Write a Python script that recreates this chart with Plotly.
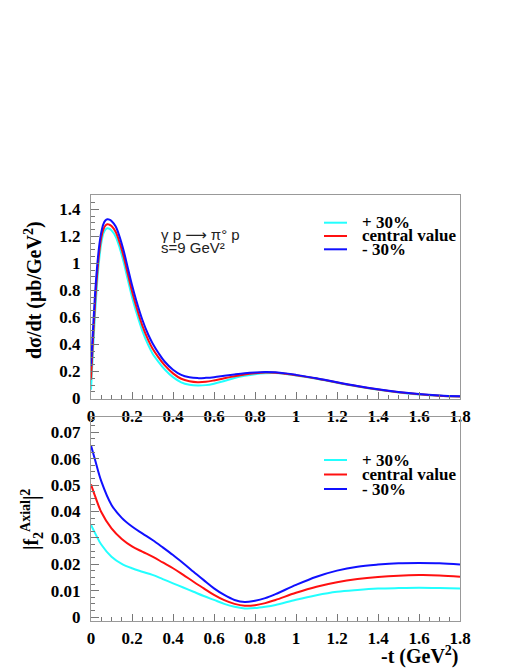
import plotly.graph_objects as go

# -t values (GeV^2) and d(sigma)/dt for the three curves (top panel)
t_top = [0, 0.01, 0.02, 0.03, 0.04, 0.05, 0.06, 0.07, 0.08, 0.09, 0.1, 0.12, 0.14,
         0.16, 0.18, 0.2, 0.22, 0.25, 0.28, 0.3, 0.33, 0.36, 0.4, 0.44, 0.48, 0.52,
         0.56, 0.6, 0.65, 0.7, 0.75, 0.8, 0.85, 0.9, 0.95, 1.0, 1.1, 1.2, 1.3, 1.4,
         1.5, 1.6, 1.7, 1.8]
dsdt_plus = [0.065, 0.36, 0.64, 0.86, 1.03, 1.15, 1.22, 1.25, 1.26, 1.257, 1.245, 1.2,
             1.115, 1.005, 0.877, 0.752, 0.645, 0.503, 0.393, 0.334, 0.27, 0.215, 0.158,
             0.12, 0.102, 0.096, 0.099, 0.11, 0.13, 0.152, 0.168, 0.18, 0.187, 0.188,
             0.181, 0.17, 0.146, 0.116, 0.088, 0.064, 0.045, 0.03, 0.02, 0.014]
dsdt_central = [0.14, 0.44, 0.71, 0.92, 1.08, 1.19, 1.25, 1.28, 1.29, 1.287, 1.278, 1.235,
                1.153, 1.046, 0.92, 0.795, 0.686, 0.542, 0.43, 0.37, 0.303, 0.245, 0.186,
                0.146, 0.128, 0.121, 0.124, 0.134, 0.15, 0.165, 0.178, 0.187, 0.192, 0.191,
                0.183, 0.173, 0.148, 0.118, 0.09, 0.066, 0.046, 0.031, 0.021, 0.015]
dsdt_minus = [0.24, 0.52, 0.78, 0.98, 1.13, 1.23, 1.29, 1.318, 1.327, 1.325, 1.315, 1.275,
              1.195, 1.09, 0.965, 0.84, 0.73, 0.585, 0.47, 0.41, 0.335, 0.272, 0.213, 0.175,
              0.157, 0.151, 0.153, 0.158, 0.168, 0.178, 0.187, 0.193, 0.196, 0.194, 0.186,
              0.175, 0.15, 0.12, 0.092, 0.068, 0.048, 0.033, 0.023, 0.017]

# |f2 Axial|^2 (bottom panel)
t_bot = [0, 0.02, 0.05, 0.1, 0.15, 0.2, 0.25, 0.3, 0.35, 0.4, 0.45, 0.5, 0.55, 0.6,
         0.65, 0.7, 0.75, 0.8, 0.85, 0.9, 1.0, 1.1, 1.2, 1.3, 1.4, 1.5, 1.6, 1.7, 1.8]
f2_plus = [0.0349, 0.0318, 0.0275, 0.0229, 0.0202, 0.0185, 0.0172, 0.016, 0.0144, 0.0128,
           0.0112, 0.0096, 0.008, 0.0065, 0.005, 0.0039, 0.0033, 0.0034, 0.0039, 0.0046,
           0.0066, 0.0083, 0.0096, 0.0103, 0.0108, 0.011, 0.0111, 0.011, 0.0108]
f2_central = [0.0503, 0.0458, 0.0398, 0.0336, 0.0296, 0.0268, 0.0248, 0.0229, 0.0207, 0.0185,
              0.016, 0.0134, 0.0109, 0.0084, 0.0064, 0.005, 0.0043, 0.0045, 0.0053, 0.0065,
              0.0092, 0.0115, 0.0132, 0.0144, 0.0152, 0.0157, 0.0159, 0.0158, 0.0153]
f2_minus = [0.065, 0.0595, 0.0515, 0.0425, 0.0376, 0.0343, 0.0317, 0.0292, 0.0264, 0.0235,
            0.0204, 0.0172, 0.014, 0.0109, 0.0084, 0.0065, 0.0057, 0.0062, 0.0072, 0.0087,
            0.0122, 0.0153, 0.0176, 0.0191, 0.0199, 0.0204, 0.0205, 0.0204, 0.0199]

labels = ["+ 30%", "central value", "- 30%"]
colors = ["#22ffff", "#ff1010", "#1010ff"]

W, H = 518, 670
PAD = 8  # page body margin shifts the figure by this much


def fx(px):
    return (px - PAD) / W


def fy(py):
    return 1 - (py - PAD) / H


fig = go.Figure()
for ys, col in zip([dsdt_plus, dsdt_central, dsdt_minus], colors):
    fig.add_trace(go.Scatter(x=t_top, y=ys, mode="lines", line=dict(color=col, width=2, shape="spline"),
                             xaxis="x", yaxis="y", showlegend=False))
for ys, col in zip([f2_plus, f2_central, f2_minus], colors):
    fig.add_trace(go.Scatter(x=t_bot, y=ys, mode="lines", line=dict(color=col, width=2, shape="spline"),
                             xaxis="x2", yaxis="y2", showlegend=False))

tickfont = dict(family="Liberation Serif", size=17, color="black", weight="bold")
common = dict(showgrid=False, zeroline=False, showline=True, linecolor="#999", linewidth=1,
              mirror=True, ticks="inside", tickcolor="#777", tickfont=tickfont, automargin=False)
xminor = dict(dtick=0.05, ticklen=4, ticks="inside", tickcolor="#777")

xdom = [fx(91), fx(460)]
fig.update_layout(
    width=W, height=H, margin=dict(l=0, r=0, t=0, b=0, autoexpand=False),
    paper_bgcolor="white", plot_bgcolor="white",
    xaxis=dict(domain=xdom, range=[0, 1.8], anchor="y", dtick=0.2, ticklen=7,
               ticklabelstandoff=2, minor=xminor, **common),
    yaxis=dict(domain=[fy(398.5), fy(195)], range=[0, 1.507], anchor="x", dtick=0.2, ticklen=8,
               ticklabelstandoff=6, minor=dict(xminor, dtick=0.05), **common),
    xaxis2=dict(domain=xdom, range=[0, 1.8], anchor="y2", dtick=0.2, ticklen=7,
                ticklabelstandoff=2, minor=xminor, **common),
    yaxis2=dict(domain=[fy(621), fy(417)], range=[-0.00148, 0.0758], anchor="x2", dtick=0.01,
                ticklen=8, ticklabelstandoff=6, minor=dict(xminor, dtick=0.0025), **common),
)


def note(px, py, text, font, xanchor="center", angle=0):
    fig.add_annotation(x=fx(px), y=fy(py), xref="paper", yref="paper", showarrow=False,
                       xanchor=xanchor, yanchor="middle", text=text, textangle=angle, font=font)


titlefont = dict(family="Liberation Serif", size=20, color="black", weight="bold")
note(33, 290, "dσ/dt (μb/GeV<sup>2</sup>)", titlefont, angle=-90)
note(32, 520, "|f<sub>2</sub><sup>Axial</sup>|<sup>2</sup>", titlefont, angle=-90)
note(461, 655, "-t (GeV<sup>2</sup>)", titlefont, xanchor="right")

procfont = dict(family="Liberation Sans, DejaVu Sans", size=15, color="#222")
note(159, 234, "γ p ⟶ π° p", procfont, xanchor="left")
note(159, 247, "s=9 GeV²", procfont, xanchor="left")

# legends drawn by hand, one per panel
legfont = dict(family="Liberation Serif", size=17, color="black", weight="bold")
for rows in ([222.7, 236, 249.3], [460, 474.5, 489]):
    for py, lab, col in zip(rows, labels, colors):
        fig.add_shape(type="line", xref="paper", yref="paper", x0=fx(324), x1=fx(347),
                      y0=fy(py), y1=fy(py), line=dict(color=col, width=2))
        note(360, py, lab, legfont, xanchor="left")

fig.write_html("out.html")
